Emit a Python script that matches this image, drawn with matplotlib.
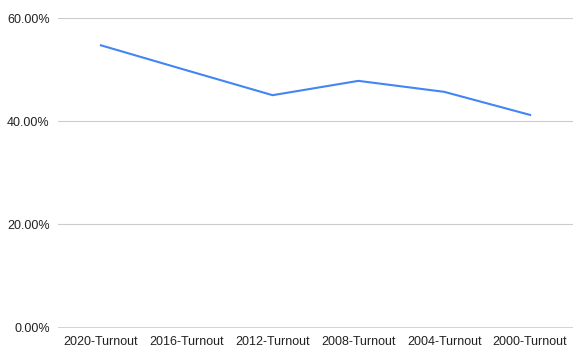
import matplotlib
matplotlib.use("Agg")
import matplotlib.pyplot as plt
from matplotlib.ticker import PercentFormatter

plt.rcParams['font.family'] = ['Liberation Sans', 'DejaVu Sans']

# turnout data
categories = ['2020-Turnout', '2016-Turnout', '2012-Turnout',
              '2008-Turnout', '2004-Turnout', '2000-Turnout']
turnout = [0.5476, 0.499, 0.4508, 0.4786, 0.4573, 0.4125]
y_ticks = [0.0, 0.2, 0.4, 0.6]

fig = plt.figure(figsize=(5.86, 3.59), dpi=100)
ax = fig.add_axes([58 / 586, 1 - 327.5 / 359, (573 - 58) / 586, (327.5 - 18.3) / 359])

x = range(len(categories))
ax.plot(x, turnout, color='#4285F4', linewidth=1.5, zorder=3)

ax.set_xlim(-0.5, len(categories) - 0.5)
ax.set_ylim(0, 0.6)
ax.set_yticks(y_ticks)
ax.yaxis.set_major_formatter(PercentFormatter(1.0, decimals=2))
ax.set_xticks(list(x))
ax.set_xticklabels(categories)

# gridlines and axis styling
ax.grid(axis='y', color='#cccccc', linewidth=0.8)
ax.axhline(0, color='#333333', linewidth=1, zorder=4)
for s in ax.spines.values():
    s.set_visible(False)
ax.tick_params(length=0, labelsize=9, colors='#222222')
ax.tick_params(axis='y', pad=6)
ax.tick_params(axis='x', pad=6)

fig.savefig('out.png', dpi=100)
